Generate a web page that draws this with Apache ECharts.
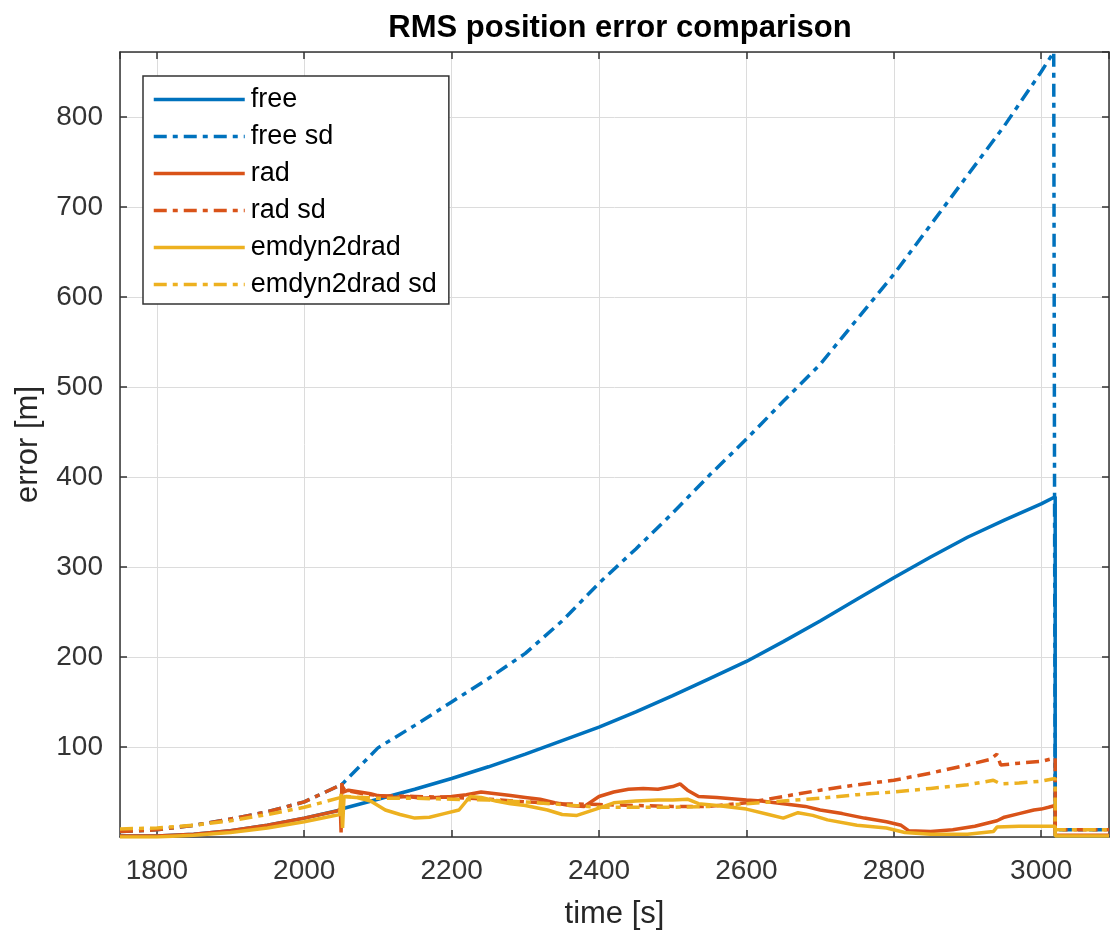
<!DOCTYPE html>
<html>
<head>
<meta charset="utf-8">
<script src="https://cdn.jsdelivr.net/npm/echarts@6/dist/echarts.min.js"></script>
<style>html,body{margin:0;padding:0;background:#fff}#c{width:1111px;height:935px}</style>
</head>
<body>
<div id="c"></div>
<script>
// ---- data ----
const xTicks = [1800, 2000, 2200, 2400, 2600, 2800, 3000];
const yTicks = [100, 200, 300, 400, 500, 600, 700, 800];

const freeT = [1750, 1800, 1850, 1900, 1950, 2000, 2049, 2054, 2100, 2150, 2200, 2250, 2300, 2350, 2400, 2450, 2500, 2550, 2600, 2650, 2700, 2750, 2800, 2850, 2900, 2950, 3000, 3019, 3019, 3050, 3092];
const freeV = [1, 1, 3, 7, 13, 21, 30, 32, 42, 53, 65, 78, 92, 107, 122, 139, 157, 176, 195, 217, 240, 264, 288, 311, 333, 352, 370, 378, 1, 1, 1];

const freeSdT = [1750, 1800, 1850, 1900, 1950, 2000, 2050, 2053, 2100, 2150, 2200, 2250, 2300, 2350, 2400, 2450, 2500, 2550, 2600, 2650, 2700, 2750, 2800, 2850, 2900, 2950, 3000, 3017, 3019, 3019, 3050, 3092];
const freeSdV = [6, 8, 13, 20, 28, 39, 58, 60, 99, 124, 150, 176, 204, 240, 282, 320, 360, 402, 442, 484, 525, 575, 625, 680, 735, 790, 850, 872, 872, 8, 8, 8];

const radT = [1750, 1800, 1850, 1900, 1950, 2000, 2045, 2049, 2050, 2051, 2053, 2060, 2075, 2090, 2100, 2120, 2140, 2160, 2180, 2200, 2220, 2240, 2260, 2280, 2300, 2320, 2340, 2360, 2380, 2400, 2420, 2440, 2460, 2480, 2500, 2510, 2520, 2535, 2560, 2600, 2620, 2650, 2680, 2700, 2730, 2760, 2790, 2810, 2820, 2850, 2880, 2910, 2940, 2950, 2970, 2990, 3000, 3010, 3019, 3019, 3050, 3092];
const radV = [1, 1, 3, 7, 13, 21, 29, 31, 5, 60, 50, 52, 50, 48, 46, 44, 45, 43, 44, 45, 47, 50, 48, 46, 44, 42, 38, 35, 34, 45, 50, 53, 54, 53, 56, 59, 52, 45, 44, 41, 40, 37, 34, 30, 26, 21, 17, 13, 7, 6, 8, 12, 18, 22, 26, 30, 31, 33, 35, 2, 2, 2];

const radSdT = [1750, 1800, 1850, 1900, 1950, 2000, 2050, 2055, 2080, 2100, 2150, 2200, 2250, 2300, 2350, 2400, 2450, 2500, 2550, 2600, 2650, 2700, 2750, 2800, 2850, 2900, 2930, 2940, 2945, 2970, 3000, 3019, 3019, 3050, 3092];
const radSdV = [6, 8, 13, 20, 28, 39, 58, 52, 48, 46, 45, 44, 42, 39, 37, 36, 35, 34, 34, 38, 45, 52, 58, 63, 71, 80, 86, 92, 80, 82, 84, 88, 8, 8, 8];

const emT = [1750, 1800, 1850, 1900, 1950, 2000, 2048, 2050, 2052, 2054, 2070, 2090, 2110, 2130, 2150, 2170, 2190, 2210, 2225, 2240, 2260, 2280, 2300, 2330, 2350, 2370, 2400, 2420, 2450, 2480, 2500, 2520, 2535, 2560, 2600, 2630, 2650, 2670, 2690, 2710, 2750, 2790, 2815, 2850, 2900, 2935, 2940, 2970, 3000, 3019, 3019, 3050, 3092];
const emV = [0, 0, 2, 5, 10, 17, 25, 48, 10, 45, 44, 40, 30, 25, 21, 22, 26, 30, 45, 44, 40, 37, 35, 30, 25, 24, 32, 38, 40, 41, 41, 42, 37, 35, 31, 25, 21, 27, 24, 19, 13, 10, 5, 3, 3, 6, 11, 12, 12, 12, 1, 1, 1];

const emSdT = [1750, 1800, 1850, 1900, 1950, 2000, 2050, 2055, 2100, 2150, 2200, 2250, 2300, 2350, 2400, 2450, 2500, 2550, 2600, 2650, 2700, 2750, 2800, 2850, 2900, 2935, 2945, 2970, 3000, 3019, 3019, 3050, 3092];
const emSdV = [9, 10, 13, 18, 25, 33, 44, 45, 43, 43, 42, 41, 39, 36, 33, 33, 33, 34, 37, 40, 43, 47, 50, 54, 58, 63, 59, 60, 62, 65, 8, 8, 8];

const seriesNames = ['free', 'free sd', 'rad', 'rad sd', 'emdyn2drad', 'emdyn2drad sd'];
// ---------------------------------------

const zip = (t, v) => t.map((x, i) => [x, v[i]]);
const blue = '#0072BD', red = '#D95319', yellow = '#EDB120';
const dashDot = [13, 6, 5, 6];
const FONT = "'Liberation Sans', Arial, Helvetica, sans-serif";

function mk(name, t, v, color, dashed) {
  return {
    name, type: 'line', xAxisIndex: 0, yAxisIndex: 0,
    data: zip(t, v), symbol: 'none', showSymbol: false, animation: false,
    lineStyle: { color, width: 3.5, type: dashed ? dashDot : 'solid' },
    itemStyle: { color }, z: 3
  };
}

const chart = echarts.init(document.getElementById('c'), null, { renderer: 'canvas' });
const axisCol = '#333';
const baseX = { type: 'value', min: 1750, max: 3092, splitNumber: 7 };
const baseY = { type: 'value', min: 0, max: 872, splitNumber: 9 };

chart.setOption({
  animation: false,
  backgroundColor: '#fff',
  title: {
    text: 'RMS position error comparison', left: 615, top: 8, textAlign: 'center',
    textStyle: { fontFamily: FONT, fontSize: 31, fontWeight: 'bold', color: '#000' }
  },
  grid: { left: 120, right: 2, top: 52, bottom: 98, show: false, containLabel: false },
  legend: {
    orient: 'vertical', left: 143, top: 76,
    data: seriesNames,
    itemWidth: 91, itemHeight: 20, itemGap: 10,
    padding: [10, 12, 6, 9],
    backgroundColor: '#fff', borderColor: '#333', borderWidth: 1.5,
    itemStyle: { opacity: 0 },
    lineStyle: { width: 3.5 },
    textStyle: { fontFamily: FONT, fontSize: 27, color: '#000', padding: [0, 0, 0, 1] },
    selectedMode: false
  },
  xAxis: [
    Object.assign({}, baseX, {
      position: 'bottom',
      name: 'time [s]', nameLocation: 'middle', nameGap: 62,
      nameTextStyle: { fontFamily: FONT, fontSize: 31, color: '#262626' },
      axisLine: { show: true, onZero: false, lineStyle: { color: axisCol, width: 1.5 } },
      axisTick: { show: true, inside: true, length: 7, lineStyle: { color: axisCol, width: 1.5 } },
      axisLabel: {
        fontFamily: FONT, fontSize: 28, color: '#333', margin: 20,
        showMinLabel: false, showMaxLabel: false,
        formatter: v => (xTicks.indexOf(v) >= 0 ? String(v) : '')
      },
      splitLine: { show: true, lineStyle: { color: '#dcdcdc', width: 1 } }
    }),
    Object.assign({}, baseX, {
      position: 'top',
      axisLine: { show: true, onZero: false, lineStyle: { color: axisCol, width: 1.5 } },
      axisTick: { show: true, inside: true, length: 7, lineStyle: { color: axisCol, width: 1.5 } },
      axisLabel: { show: false }, splitLine: { show: false }
    })
  ],
  yAxis: [
    Object.assign({}, baseY, {
      position: 'left',
      name: 'error [m]', nameLocation: 'middle', nameGap: 76,
      nameTextStyle: { fontFamily: FONT, fontSize: 31, color: '#262626' },
      axisLine: { show: true, onZero: false, lineStyle: { color: axisCol, width: 1.5 } },
      axisTick: { show: true, inside: true, length: 7, lineStyle: { color: axisCol, width: 1.5 } },
      axisLabel: {
        fontFamily: FONT, fontSize: 28, color: '#333', margin: 17,
        showMinLabel: false, showMaxLabel: false,
        formatter: v => (yTicks.indexOf(v) >= 0 ? String(v) : '')
      },
      splitLine: { show: true, lineStyle: { color: '#dcdcdc', width: 1 } }
    }),
    Object.assign({}, baseY, {
      position: 'right',
      axisLine: { show: true, onZero: false, lineStyle: { color: axisCol, width: 1.5 } },
      axisTick: { show: true, inside: true, length: 7, lineStyle: { color: axisCol, width: 1.5 } },
      axisLabel: { show: false }, splitLine: { show: false }
    })
  ],
  series: [
    mk('free', freeT, freeV, blue, false),
    mk('free sd', freeSdT, freeSdV, blue, true),
    mk('rad', radT, radV, red, false),
    mk('rad sd', radSdT, radSdV, red, true),
    mk('emdyn2drad', emT, emV, yellow, false),
    mk('emdyn2drad sd', emSdT, emSdV, yellow, true)
  ]
});
</script>
</body>
</html>
